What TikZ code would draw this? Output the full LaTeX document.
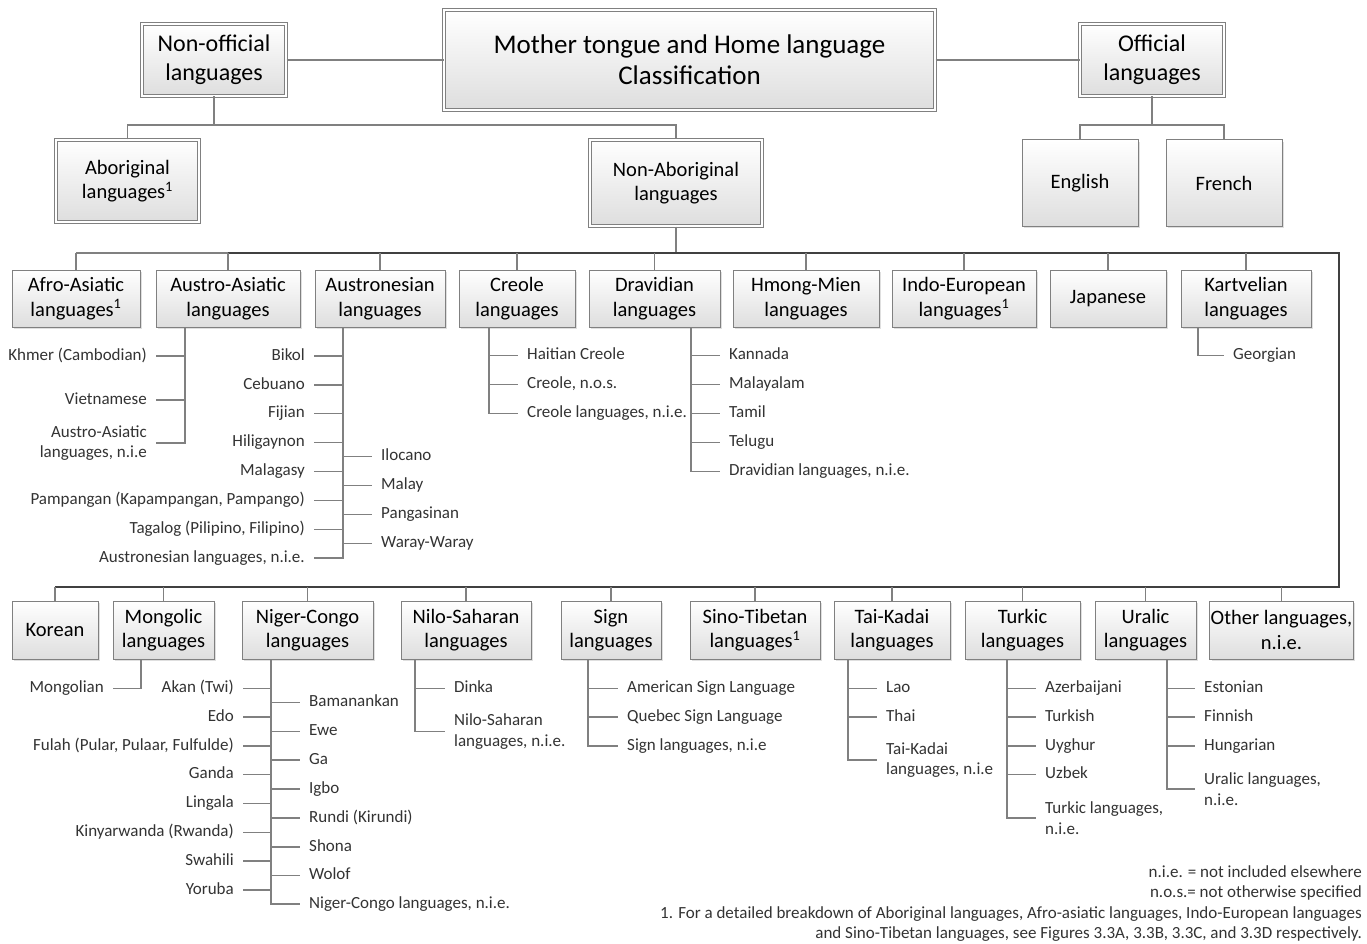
\documentclass[tikz,border=0pt]{standalone}
\usepackage{fontspec}
\setmainfont{Carlito}
\usetikzlibrary{shadows}
\newcommand{\leafsize}{\fontsize{17}{20.5}\selectfont}
\newcommand{\boxsize}{\fontsize{20.5}{24.5}\selectfont}
\newcommand{\topsize}{\fontsize{24}{29}\selectfont}
\newcommand{\titlesize}{\fontsize{27}{31}\selectfont}
\tikzset{
  box/.style={draw=black!50, line width=1pt, top color=white, bottom color=black!13, align=center, inner sep=1pt, font=\boxsize, drop shadow={shadow xshift=2pt, shadow yshift=-2pt, opacity=0.25}},
  dbox/.style={box, double=white, double distance=2pt},
  leafbase/.style={font=\leafsize, text=black!80, inner xsep=9pt, inner ysep=1pt},
  leaf/.style={leafbase, text height=12pt, text depth=4pt},
  leaftwo/.style={leafbase, align=left},
  conn/.style={draw=black!50, line width=1.3pt},
  trunk/.style={draw=black!75, line width=2.2pt},
}

\begin{document}
\begin{tikzpicture}[x=1pt, y=-1pt]
		%%%%% START %%%%%
		\useasboundingbox (0,0) rectangle (1367,944);
		\fill[white] (0,0) rectangle (1367,944);
		
		% top level
		\node[dbox, font=\titlesize, minimum width=491pt, minimum height=100pt] (title) at (689.5,60) {Mother tongue and Home language\\Classification};
		\node[dbox, font=\topsize, minimum width=144pt, minimum height=72pt] (nonoff) at (214,60) {Non-official\\languages};
		\node[dbox, font=\topsize, minimum width=144pt, minimum height=72pt] (off) at (1152,60) {Official\\languages};
		\draw[conn] (nonoff) -- (title);
		\draw[conn] (title) -- (off);
		
		\node[dbox, minimum width=143pt, minimum height=82pt] (abor) at (127.5,181) {Aboriginal\\languages\textsuperscript{1}};
		\node[dbox, minimum width=172pt, minimum height=86pt] (nonabor) at (676,183) {Non-Aboriginal\\languages};
		\node[box, minimum width=116pt, minimum height=86pt] (english) at (1080,183) {English};
		\node[box, minimum width=116pt, minimum height=86pt] (french) at (1224,183) {French};
		
		\coordinate (hubl) at (214,125);
		\coordinate (hubr) at (1152,125);
		\draw[conn] (nonoff.south) -- (hubl);
		\draw[conn] (abor.north) |- (hubl) -| (nonabor.north);
		\draw[conn] (off.south) -- (hubr);
		\draw[conn] (english.north) |- (hubr) -| (french.north);
		
		% first row of families
		\node[box, minimum width=128pt, minimum height=57pt] (afro) at (76,298.5) {Afro-Asiatic\\languages\textsuperscript{1}};
		\node[box, minimum width=144pt, minimum height=57pt] (austroas) at (228,298.5) {Austro-Asiatic\\languages};
		\node[box, minimum width=130pt, minimum height=57pt] (austron) at (380,298.5) {Austronesian\\languages};
		\node[box, minimum width=116pt, minimum height=57pt] (creole) at (517,298.5) {Creole\\languages};
		\node[box, minimum width=131pt, minimum height=57pt] (dravid) at (654.5,298.5) {Dravidian\\languages};
		\node[box, minimum width=146pt, minimum height=57pt] (hmong) at (806,298.5) {Hmong-Mien\\languages};
		\node[box, minimum width=144pt, minimum height=57pt] (indo) at (964,298.5) {Indo-European\\languages\textsuperscript{1}};
		\node[box, minimum width=116pt, minimum height=57pt] (japan) at (1108,298.5) {Japanese};
		\node[box, minimum width=130pt, minimum height=57pt] (kartv) at (1246,298.5) {Kartvelian\\languages};
		
		% second row of families
		\node[box, minimum width=86pt, minimum height=58pt] (korean) at (55,630) {Korean};
		\node[box, minimum width=101pt, minimum height=58pt] (mongolic) at (163.5,630) {Mongolic\\languages};
		\node[box, minimum width=131pt, minimum height=58pt] (niger) at (307.5,630) {Niger-Congo\\languages};
		\node[box, minimum width=130pt, minimum height=58pt] (nilo) at (466,630) {Nilo-Saharan\\languages};
		\node[box, minimum width=100pt, minimum height=58pt] (sign) at (611,630) {Sign\\languages};
		\node[box, minimum width=130pt, minimum height=58pt] (sino) at (755,630) {Sino-Tibetan\\languages\textsuperscript{1}};
		\node[box, minimum width=116pt, minimum height=58pt] (taikadai) at (892,630) {Tai-Kadai\\languages};
		\node[box, minimum width=115pt, minimum height=58pt] (turkic) at (1022.5,630) {Turkic\\languages};
		\node[box, minimum width=101pt, minimum height=58pt] (uralic) at (1145.5,630) {Uralic\\languages};
		\node[box, minimum width=143pt, minimum height=58pt] (other) at (1281.5,630) {Other languages,\\n.i.e.};
		
		% trunk
		\coordinate (rowa) at (676,253);
		\coordinate (rowb) at (1339,587);
		\draw[conn] (nonabor.south) -- (rowa);
		\draw[conn] (rowa -| afro.north) -- (rowa);
		\draw[trunk] (rowa -| austroas.north) -| (rowb) -- (rowb -| korean.north);
		\draw[conn] (rowa -| afro.north) -- (afro.north);
		\draw[conn] (rowa -| austroas.north) -- (austroas.north);
		\draw[conn] (rowa -| austron.north) -- (austron.north);
		\draw[conn] (rowa -| creole.north) -- (creole.north);
		\draw[conn] (rowa -| dravid.north) -- (dravid.north);
		\draw[conn] (rowa -| hmong.north) -- (hmong.north);
		\draw[conn] (rowa -| indo.north) -- (indo.north);
		\draw[conn] (rowa -| japan.north) -- (japan.north);
		\draw[conn] (rowa -| kartv.north) -- (kartv.north);
		\draw[conn] (rowb -| korean.north) -- (korean.north);
		\draw[conn] (rowb -| mongolic.north) -- (mongolic.north);
		\draw[conn] (rowb -| niger.north) -- (niger.north);
		\draw[conn] (rowb -| nilo.north) -- (nilo.north);
		\draw[conn] (rowb -| sign.north) -- (sign.north);
		\draw[conn] (rowb -| sino.north) -- (sino.north);
		\draw[conn] (rowb -| taikadai.north) -- (taikadai.north);
		\draw[conn] (rowb -| turkic.north) -- (turkic.north);
		\draw[conn] (rowb -| uralic.north) -- (uralic.north);
		\draw[conn] (rowb -| other.north) -- (other.north);
		
		% Austro-Asiatic
		\coordinate (aastem) at (185,327);
		\node[leaf, anchor=east] (khmer) at (156,356) {Khmer (Cambodian)};
		\node[leaf, anchor=east] (viet) at (156,400) {Vietnamese};
		\node[leaftwo, anchor=east, align=right] (aanie) at (156,443) {Austro-Asiatic\\languages, n.i.e};
		\draw[conn] (aastem) |- (khmer.east);
		\draw[conn] (aastem) |- (viet.east);
		\draw[conn] (aastem) |- (aanie.east);
		
		% Austronesian
		\coordinate (anstem) at (343,327);
		\node[leaf, anchor=east] (bikol) at (314,356) {Bikol};
		\node[leaf, anchor=east] (cebuano) at (314,385) {Cebuano};
		\node[leaf, anchor=east] (fijian) at (314,413.5) {Fijian};
		\node[leaf, anchor=east] (hiligay) at (314,442.5) {Hiligaynon};
		\node[leaf, anchor=east] (malagasy) at (314,471.5) {Malagasy};
		\node[leaf, anchor=east] (pampang) at (314,500.5) {Pampangan (Kapampangan, Pampango)};
		\node[leaf, anchor=east] (tagalog) at (314,529.5) {Tagalog (Pilipino, Filipino)};
		\node[leaf, anchor=east] (annie) at (314,558) {Austronesian languages, n.i.e.};
		\node[leaf, anchor=west] (ilocano) at (372,456.5) {Ilocano};
		\node[leaf, anchor=west] (malay) at (372,485.5) {Malay};
		\node[leaf, anchor=west] (pangas) at (372,514.5) {Pangasinan};
		\node[leaf, anchor=west] (waray) at (372,543.5) {Waray-Waray};
		\draw[conn] (anstem) |- (bikol.east);
		\draw[conn] (anstem) |- (cebuano.east);
		\draw[conn] (anstem) |- (fijian.east);
		\draw[conn] (anstem) |- (hiligay.east);
		\draw[conn] (anstem) |- (malagasy.east);
		\draw[conn] (anstem) |- (pampang.east);
		\draw[conn] (anstem) |- (tagalog.east);
		\draw[conn] (anstem) |- (annie.east);
		\draw[conn] (anstem) |- (ilocano.west);
		\draw[conn] (anstem) |- (malay.west);
		\draw[conn] (anstem) |- (pangas.west);
		\draw[conn] (anstem) |- (waray.west);
		
		% Creole
		\coordinate (crstem) at (489,327);
		\node[leaf, anchor=west] (haitian) at (518,355.5) {Haitian Creole};
		\node[leaf, anchor=west] (crnos) at (518,384.5) {Creole, n.o.s.};
		\node[leaf, anchor=west] (crnie) at (518,413.5) {Creole languages, n.i.e.};
		\draw[conn] (crstem) |- (haitian.west);
		\draw[conn] (crstem) |- (crnos.west);
		\draw[conn] (crstem) |- (crnie.west);
		
		% Dravidian
		\coordinate (drstem) at (691,327);
		\node[leaf, anchor=west] (kannada) at (720,355.5) {Kannada};
		\node[leaf, anchor=west] (malayalam) at (720,384.5) {Malayalam};
		\node[leaf, anchor=west] (tamil) at (720,413.5) {Tamil};
		\node[leaf, anchor=west] (telugu) at (720,442.5) {Telugu};
		\node[leaf, anchor=west] (drnie) at (720,471.5) {Dravidian languages, n.i.e.};
		\draw[conn] (drstem) |- (kannada.west);
		\draw[conn] (drstem) |- (malayalam.west);
		\draw[conn] (drstem) |- (tamil.west);
		\draw[conn] (drstem) |- (telugu.west);
		\draw[conn] (drstem) |- (drnie.west);
		
		% Kartvelian
		\coordinate (kastem) at (1198,327);
		\node[leaf, anchor=west] (georgian) at (1224,355.5) {Georgian};
		\draw[conn] (kastem) |- (georgian.west);
		
		% Mongolic
		\coordinate (mostem) at (141,659);
		\node[leaf, anchor=east] (mongolian) at (113,688.5) {Mongolian};
		\draw[conn] (mostem) |- (mongolian.east);
		
		% Niger-Congo
		\coordinate (ncstem) at (271,659);
		\node[leaf, anchor=east] (akan) at (243,688.5) {Akan (Twi)};
		\node[leaf, anchor=east] (edo) at (243,717) {Edo};
		\node[leaf, anchor=east] (fulah) at (243,746) {Fulah (Pular, Pulaar, Fulfulde)};
		\node[leaf, anchor=east] (ganda) at (243,774.5) {Ganda};
		\node[leaf, anchor=east] (lingala) at (243,803.5) {Lingala};
		\node[leaf, anchor=east] (kinyar) at (243,832.5) {Kinyarwanda (Rwanda)};
		\node[leaf, anchor=east] (swahili) at (243,861) {Swahili};
		\node[leaf, anchor=east] (yoruba) at (243,890) {Yoruba};
		\node[leaf, anchor=west] (bamanan) at (300,702.5) {Bamanankan};
		\node[leaf, anchor=west] (ewe) at (300,731.5) {Ewe};
		\node[leaf, anchor=west] (ga) at (300,760) {Ga};
		\node[leaf, anchor=west] (igbo) at (300,789) {Igbo};
		\node[leaf, anchor=west] (rundi) at (300,818) {Rundi (Kirundi)};
		\node[leaf, anchor=west] (shona) at (300,847) {Shona};
		\node[leaf, anchor=west] (wolof) at (300,875.5) {Wolof};
		\node[leaf, anchor=west] (ncnie) at (300,904) {Niger-Congo languages, n.i.e.};
		\draw[conn] (ncstem) |- (akan.east);
		\draw[conn] (ncstem) |- (edo.east);
		\draw[conn] (ncstem) |- (fulah.east);
		\draw[conn] (ncstem) |- (ganda.east);
		\draw[conn] (ncstem) |- (lingala.east);
		\draw[conn] (ncstem) |- (kinyar.east);
		\draw[conn] (ncstem) |- (swahili.east);
		\draw[conn] (ncstem) |- (yoruba.east);
		\draw[conn] (ncstem) |- (bamanan.west);
		\draw[conn] (ncstem) |- (ewe.west);
		\draw[conn] (ncstem) |- (ga.west);
		\draw[conn] (ncstem) |- (igbo.west);
		\draw[conn] (ncstem) |- (rundi.west);
		\draw[conn] (ncstem) |- (shona.west);
		\draw[conn] (ncstem) |- (wolof.west);
		\draw[conn] (ncstem) |- (ncnie.west);
		
		% Nilo-Saharan
		\coordinate (nsstem) at (415,659);
		\node[leaf, anchor=west] (dinka) at (445,688.5) {Dinka};
		\node[leaftwo, anchor=west] (nsnie) at (445,731.5) {Nilo-Saharan\\languages, n.i.e.};
		\draw[conn] (nsstem) |- (dinka.west);
		\draw[conn] (nsstem) |- (nsnie.west);
		
		% Sign
		\coordinate (sgstem) at (588,659);
		\node[leaf, anchor=west] (asl) at (618,688.5) {American Sign Language};
		\node[leaf, anchor=west] (lsq) at (618,717) {Quebec Sign Language};
		\node[leaf, anchor=west] (sgnie) at (618,746) {Sign languages, n.i.e};
		\draw[conn] (sgstem) |- (asl.west);
		\draw[conn] (sgstem) |- (lsq.west);
		\draw[conn] (sgstem) |- (sgnie.west);
		
		% Tai-Kadai
		\coordinate (tkstem) at (848,659);
		\node[leaf, anchor=west] (lao) at (877,688.5) {Lao};
		\node[leaf, anchor=west] (thai) at (877,717) {Thai};
		\node[leaftwo, anchor=west] (tknie) at (877,760) {Tai-Kadai\\languages, n.i.e};
		\draw[conn] (tkstem) |- (lao.west);
		\draw[conn] (tkstem) |- (thai.west);
		\draw[conn] (tkstem) |- (tknie.west);
		
		% Turkic
		\coordinate (tustem) at (1007,659);
		\node[leaf, anchor=west] (azeri) at (1036,688.5) {Azerbaijani};
		\node[leaf, anchor=west] (turkish) at (1036,717) {Turkish};
		\node[leaf, anchor=west] (uyghur) at (1036,746) {Uyghur};
		\node[leaf, anchor=west] (uzbek) at (1036,774.5) {Uzbek};
		\node[leaftwo, anchor=west] (tunie) at (1036,818) {Turkic languages,\\n.i.e.};
		\draw[conn] (tustem) |- (azeri.west);
		\draw[conn] (tustem) |- (turkish.west);
		\draw[conn] (tustem) |- (uyghur.west);
		\draw[conn] (tustem) |- (uzbek.west);
		\draw[conn] (tustem) |- (tunie.west);
		
		% Uralic
		\coordinate (urstem) at (1167,659);
		\node[leaf, anchor=west] (estonian) at (1195,688.5) {Estonian};
		\node[leaf, anchor=west] (finnish) at (1195,717) {Finnish};
		\node[leaf, anchor=west] (hungar) at (1195,746) {Hungarian};
		\node[leaftwo, anchor=west] (urnie) at (1195,789) {Uralic languages,\\n.i.e.};
		\draw[conn] (urstem) |- (estonian.west);
		\draw[conn] (urstem) |- (finnish.west);
		\draw[conn] (urstem) |- (hungar.west);
		\draw[conn] (urstem) |- (urnie.west);
		
		% notes
		\node[leaftwo, anchor=north east, align=right, inner sep=0pt] (notes) at (1362,865) {n.i.e. = not included elsewhere\\n.o.s.= not otherwise specified\\1. For a detailed breakdown of Aboriginal languages, Afro-asiatic languages, Indo-European languages\\and Sino-Tibetan languages, see Figures 3.3A, 3.3B, 3.3C, and 3.3D respectively.};
		
		%%%%% END %%%%%
\end{tikzpicture}
\end{document}
